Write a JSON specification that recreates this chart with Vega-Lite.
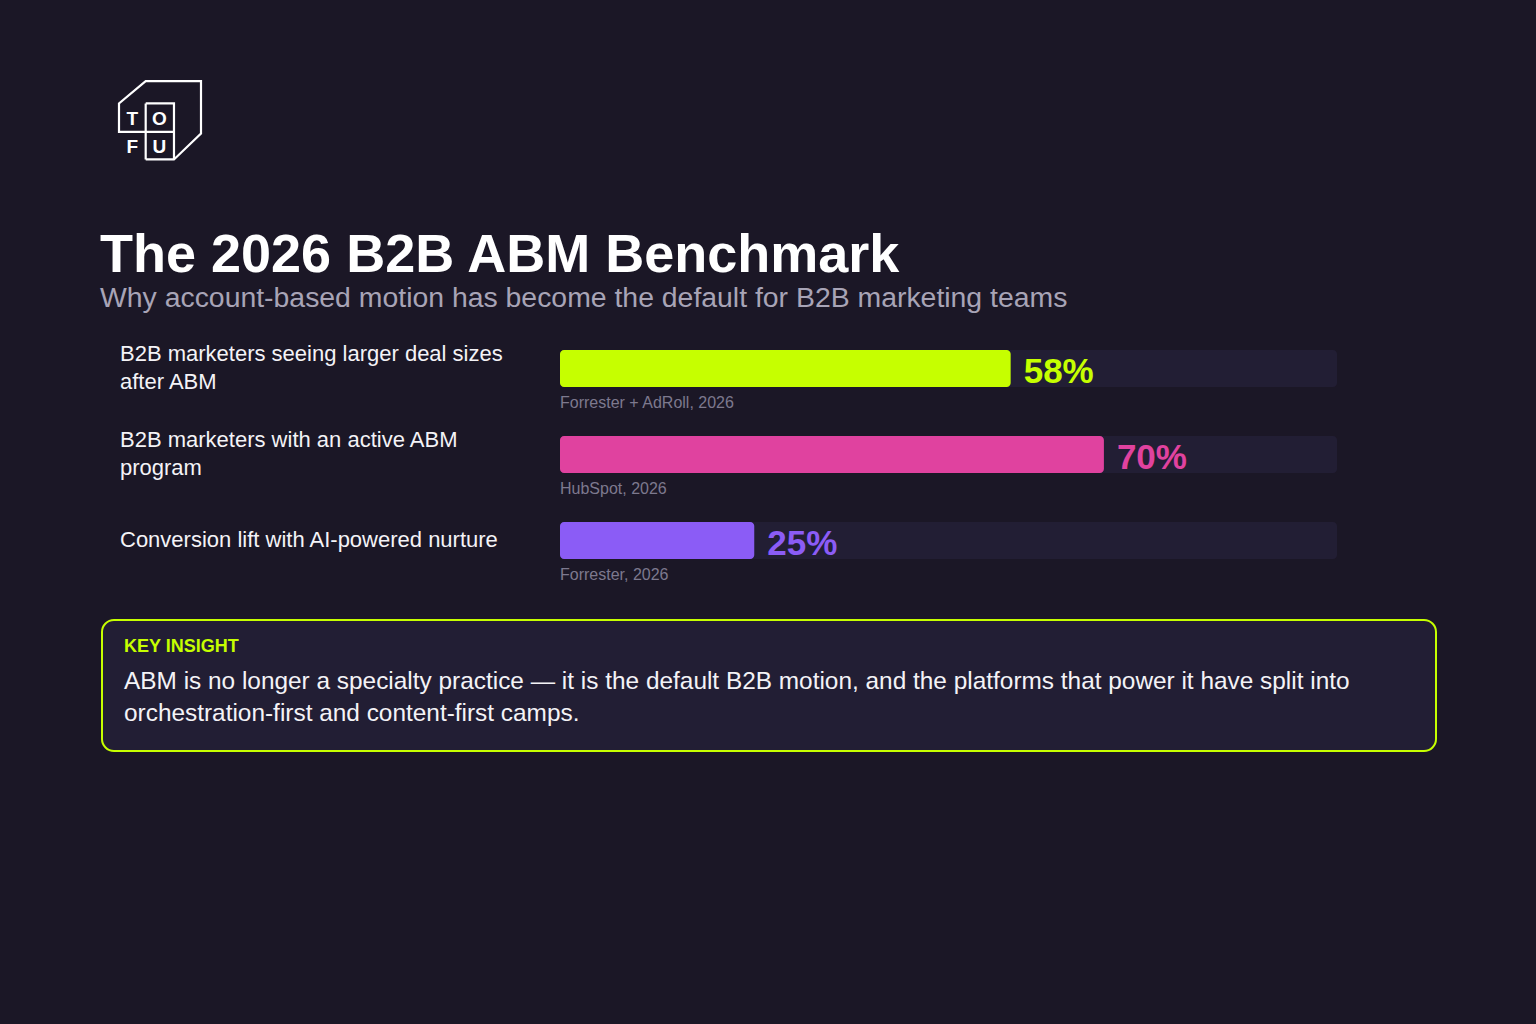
{
  "$schema": "https://vega.github.io/schema/vega-lite/v6.json",
  "width": 1536,
  "height": 1024,
  "autosize": {"type": "none"},
  "padding": 0,
  "background": "#1b1726",
  "config": {"view": {"stroke": null}, "font": "Liberation Sans"},
  "datasets": {
    "metrics": [
      {"metric": "B2B marketers seeing larger deal sizes\nafter ABM", "share": 0.58, "source": "Forrester + AdRoll, 2026", "rank": 0},
      {"metric": "B2B marketers with an active ABM\nprogram", "share": 0.70, "source": "HubSpot, 2026", "rank": 1},
      {"metric": "Conversion lift with AI-powered nurture", "share": 0.25, "source": "Forrester, 2026", "rank": 2}
    ]
  },
  "layer": [
    {
      "data": {"values": [{"brand": "TOFU"}]},
      "mark": {"type": "point", "shape": "M-0.349,0.958 L0.341,0.958 L1,0.324 L1,-0.951 L-0.349,-0.951 L-1,-0.407 L-1,0.285 L0.341,0.285 M-0.349,-0.407 L0.341,-0.407 L0.341,0.958 M-0.349,-0.407 L-0.349,0.958", "filled": false, "stroke": "#ffffff", "strokeWidth": 2.2, "size": 6724, "opacity": 1, "strokeJoin": "miter"},
      "encoding": {
        "x": {"datum": -0.5148, "type": "quantitative", "scale": {"domain": [-0.720721, 1.256113], "nice": false, "zero": false, "padding": 0}, "axis": null},
        "y": {"datum": -2.887791, "type": "quantitative", "scale": {"domain": [-4.284884, 7.622093], "nice": false, "zero": false, "reverse": true, "padding": 0}, "axis": null}
      }
    },
    {
      "data": {"values": [{"brand": "T"}]},
      "mark": {"type": "text", "text": "T", "fontSize": 19, "fontWeight": "bold", "fill": "#ffffff", "align": "center", "baseline": "alphabetic"},
      "encoding": {
        "x": {"datum": -0.55045, "type": "quantitative", "axis": null},
        "y": {"datum": -2.831395, "type": "quantitative", "axis": null}
      }
    },
    {
      "data": {"values": [{"brand": "O"}]},
      "mark": {"type": "text", "text": "O", "fontSize": 19, "fontWeight": "bold", "fill": "#ffffff", "align": "center", "baseline": "alphabetic"},
      "encoding": {
        "x": {"datum": -0.515701, "type": "quantitative", "axis": null},
        "y": {"datum": -2.831395, "type": "quantitative", "axis": null}
      }
    },
    {
      "data": {"values": [{"brand": "F"}]},
      "mark": {"type": "text", "text": "F", "fontSize": 19, "fontWeight": "bold", "fill": "#ffffff", "align": "center", "baseline": "alphabetic"},
      "encoding": {
        "x": {"datum": -0.55045, "type": "quantitative", "axis": null},
        "y": {"datum": -2.501744, "type": "quantitative", "axis": null}
      }
    },
    {
      "data": {"values": [{"brand": "U"}]},
      "mark": {"type": "text", "text": "U", "fontSize": 19, "fontWeight": "bold", "fill": "#ffffff", "align": "center", "baseline": "alphabetic"},
      "encoding": {
        "x": {"datum": -0.515701, "type": "quantitative", "axis": null},
        "y": {"datum": -2.501744, "type": "quantitative", "axis": null}
      }
    },
    {
      "data": {"values": [{"t": "The 2026 B2B ABM Benchmark"}]},
      "mark": {"type": "text", "fontSize": 54, "fontWeight": "bold", "fill": "#ffffff", "align": "left", "baseline": "alphabetic"},
      "encoding": {
        "x": {"datum": -0.592021, "type": "quantitative", "axis": null},
        "y": {"datum": -1.122093, "type": "quantitative", "axis": null},
        "text": {"field": "t"}
      }
    },
    {
      "data": {"values": [{"t": "Why account-based motion has become the default for B2B marketing teams"}]},
      "mark": {"type": "text", "fontSize": 28.4, "fill": "#a8a4b6", "align": "left", "baseline": "alphabetic"},
      "encoding": {
        "x": {"datum": -0.592021, "type": "quantitative", "axis": null},
        "y": {"datum": -0.72093, "type": "quantitative", "axis": null},
        "text": {"field": "t"}
      }
    },
    {
      "data": {"name": "metrics"},
      "mark": {"type": "bar", "orient": "horizontal", "height": 37, "cornerRadius": 4, "fill": "#221e34"},
      "encoding": {
        "x": {"datum": 1, "type": "quantitative", "axis": null},
        "x2": {"datum": 0},
        "y": {"field": "rank", "type": "quantitative", "axis": null}
      }
    },
    {
      "data": {"name": "metrics"},
      "mark": {"type": "bar", "orient": "horizontal", "height": 37, "cornerRadius": 4},
      "encoding": {
        "x": {"field": "share", "type": "quantitative", "axis": null},
        "x2": {"datum": 0},
        "y": {"field": "rank", "type": "quantitative", "axis": null},
        "color": {"field": "rank", "type": "nominal", "scale": {"domain": [0, 1, 2], "range": ["#c6ff00", "#e0429f", "#8b5cf6"]}, "legend": null}
      }
    },
    {
      "data": {"name": "metrics"},
      "mark": {"type": "text", "fontSize": 35, "fontWeight": "bold", "align": "left", "baseline": "alphabetic", "dx": 13, "dy": 14},
      "encoding": {
        "x": {"field": "share", "type": "quantitative", "axis": null},
        "y": {"field": "rank", "type": "quantitative", "axis": null},
        "text": {"field": "share", "type": "quantitative", "format": ".0%"},
        "color": {"field": "rank", "type": "nominal", "legend": null}
      }
    },
    {
      "data": {"name": "metrics"},
      "mark": {"type": "text", "fontSize": 16, "fill": "#7d798e", "align": "left", "baseline": "alphabetic", "dy": 39.5},
      "encoding": {
        "x": {"datum": 0, "type": "quantitative", "axis": null},
        "y": {"field": "rank", "type": "quantitative", "axis": null},
        "text": {"field": "source"}
      }
    },
    {
      "data": {"name": "metrics"},
      "transform": [{"filter": "indexof(datum.metric, '\\n') >= 0"}],
      "mark": {"type": "text", "fontSize": 22, "fill": "#f4f3f7", "align": "left", "baseline": "middle", "lineBreak": "\n", "lineHeight": 28, "dy": -14.5},
      "encoding": {
        "x": {"datum": -0.566281, "type": "quantitative", "axis": null},
        "y": {"field": "rank", "type": "quantitative", "axis": null},
        "text": {"field": "metric"}
      }
    },
    {
      "data": {"name": "metrics"},
      "transform": [{"filter": "indexof(datum.metric, '\\n') < 0"}],
      "mark": {"type": "text", "fontSize": 22, "fill": "#f4f3f7", "align": "left", "baseline": "middle", "lineBreak": "\n", "lineHeight": 28, "dy": -1},
      "encoding": {
        "x": {"datum": -0.566281, "type": "quantitative", "axis": null},
        "y": {"field": "rank", "type": "quantitative", "axis": null},
        "text": {"field": "metric"}
      }
    },
    {
      "data": {"values": [{"box": "insight"}]},
      "mark": {"type": "rect", "fill": "#221e34", "stroke": "#c6ff00", "strokeWidth": 2, "cornerRadius": 12},
      "encoding": {
        "x": {"datum": -0.589447, "type": "quantitative", "axis": null},
        "x2": {"datum": 1.127413},
        "y": {"datum": 2.924419, "type": "quantitative", "axis": null},
        "y2": {"datum": 4.447674}
      }
    },
    {
      "data": {"values": [{"t": "KEY INSIGHT"}]},
      "mark": {"type": "text", "fontSize": 18, "fontWeight": "bold", "fill": "#c6ff00", "align": "left", "baseline": "alphabetic"},
      "encoding": {
        "x": {"datum": -0.561133, "type": "quantitative", "axis": null},
        "y": {"datum": 3.290698, "type": "quantitative", "axis": null},
        "text": {"field": "t"}
      }
    },
    {
      "data": {"values": [{"t": "ABM is no longer a specialty practice — it is the default B2B motion, and the platforms that power it have split into\norchestration-first and content-first camps."}]},
      "mark": {"type": "text", "fontSize": 24.4, "fill": "#f4f3f7", "align": "left", "baseline": "alphabetic", "lineBreak": "\n", "lineHeight": 32},
      "encoding": {
        "x": {"datum": -0.561133, "type": "quantitative", "axis": null},
        "y": {"datum": 3.726744, "type": "quantitative", "axis": null},
        "text": {"field": "t"}
      }
    }
  ]
}
